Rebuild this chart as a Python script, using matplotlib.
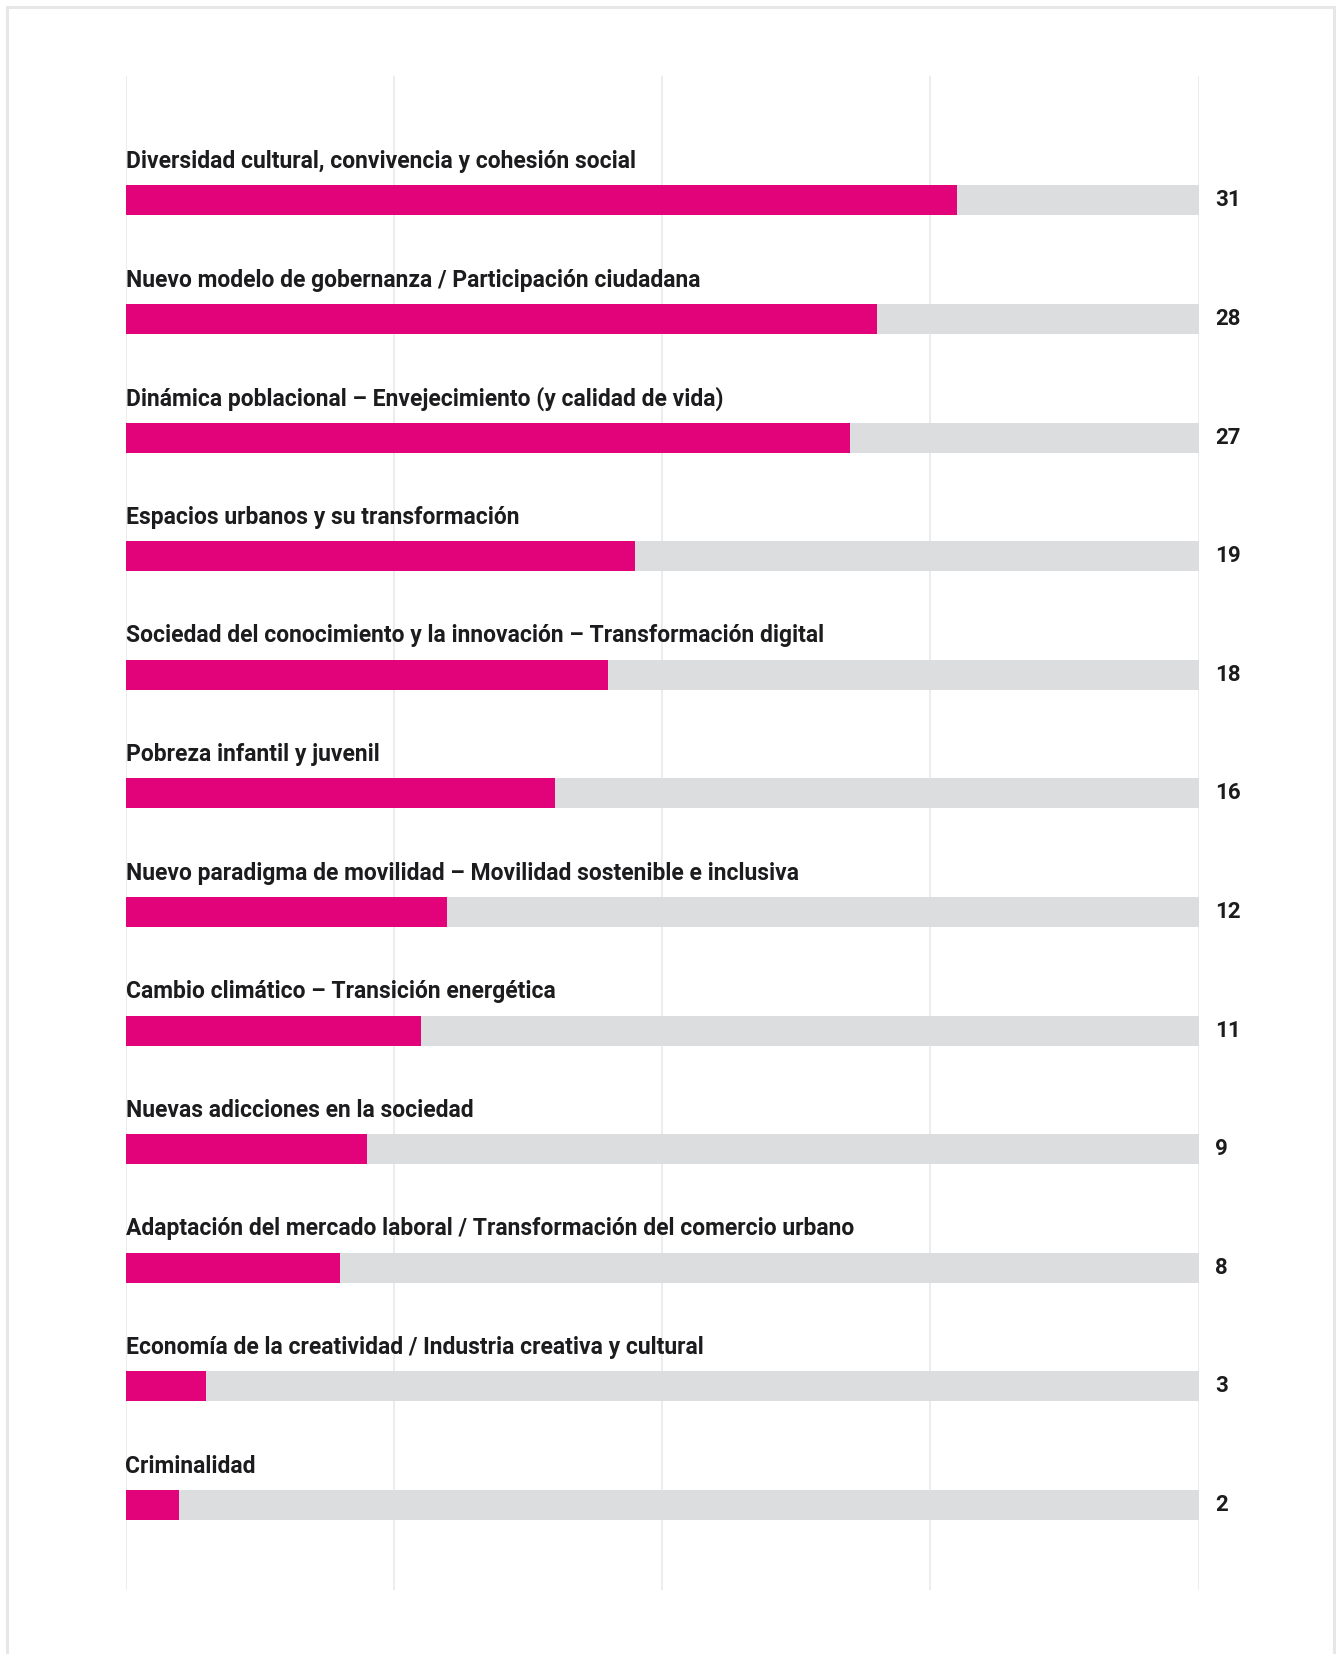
import matplotlib.pyplot as plt
from matplotlib.patches import Rectangle

# data
categories = [
    "Diversidad cultural, convivencia y cohesión social",
    "Nuevo modelo de gobernanza / Participación ciudadana",
    "Dinámica poblacional – Envejecimiento (y calidad de vida)",
    "Espacios urbanos y su transformación",
    "Sociedad del conocimiento y la innovación – Transformación digital",
    "Pobreza infantil y juvenil",
    "Nuevo paradigma de movilidad – Movilidad sostenible e inclusiva",
    "Cambio climático – Transición energética",
    "Nuevas adicciones en la sociedad",
    "Adaptación del mercado laboral / Transformación del comercio urbano",
    "Economía de la creatividad / Industria creativa y cultural",
    "Criminalidad",
]
values = [31, 28, 27, 19, 18, 16, 12, 11, 9, 8, 3, 2]
x_max = 40
grid_ticks = [0, 10, 20, 30, 40]

MAGENTA = "#e2027a"
TRACK = "#dcdddf"
TEXT = "#1c1c1e"
GRID = "#ebebeb"
FONT = "Roboto"

W, H = 1337, 1654
fig = plt.figure(figsize=(W / 100, H / 100), dpi=100)
fig.patch.set_facecolor("white")

# outer frame
fig.patches.append(Rectangle((7 / W, -0.01), (1334 - 7) / W, 1.01 - 7 / H,
                             transform=fig.transFigure, fill=False,
                             edgecolor="#e6e7e9", linewidth=2.2))

left_px, right_px = 125.5, 1198.5
top_px, bottom_px = 76, 1590
ax = fig.add_axes([left_px / W, 1 - bottom_px / H,
                   (right_px - left_px) / W, (bottom_px - top_px) / H])

pitch = 118.6
y = list(range(len(categories)))
ax.set_xlim(0, x_max)
ax.set_ylim(len(categories) - 1 + (bottom_px - 1505) / pitch, -(200.5 - top_px) / pitch)

for t in grid_ticks:
    ax.axvline(t, color=GRID, linewidth=1.3, zorder=0)

bar_h = 30 / pitch
ax.barh(y, [x_max] * len(y), height=bar_h, color=TRACK, zorder=1)
ax.barh(y, values, height=bar_h, color=MAGENTA, zorder=2)

label_off = 39 / pitch
value_x = (1215 - left_px) / (right_px - left_px) * x_max
for i, (cat, v) in enumerate(zip(categories, values)):
    ax.text(0, i - label_off, cat, ha="left", va="center", fontsize=16.5,
            fontweight="bold", family=FONT, color=TEXT, zorder=3)
    ax.text(value_x, i, str(v), ha="left", va="center", fontsize=16,
            fontweight="bold", family=FONT, color=TEXT, clip_on=False)

ax.axis("off")
fig.savefig("out.png", dpi=100, facecolor="white")
